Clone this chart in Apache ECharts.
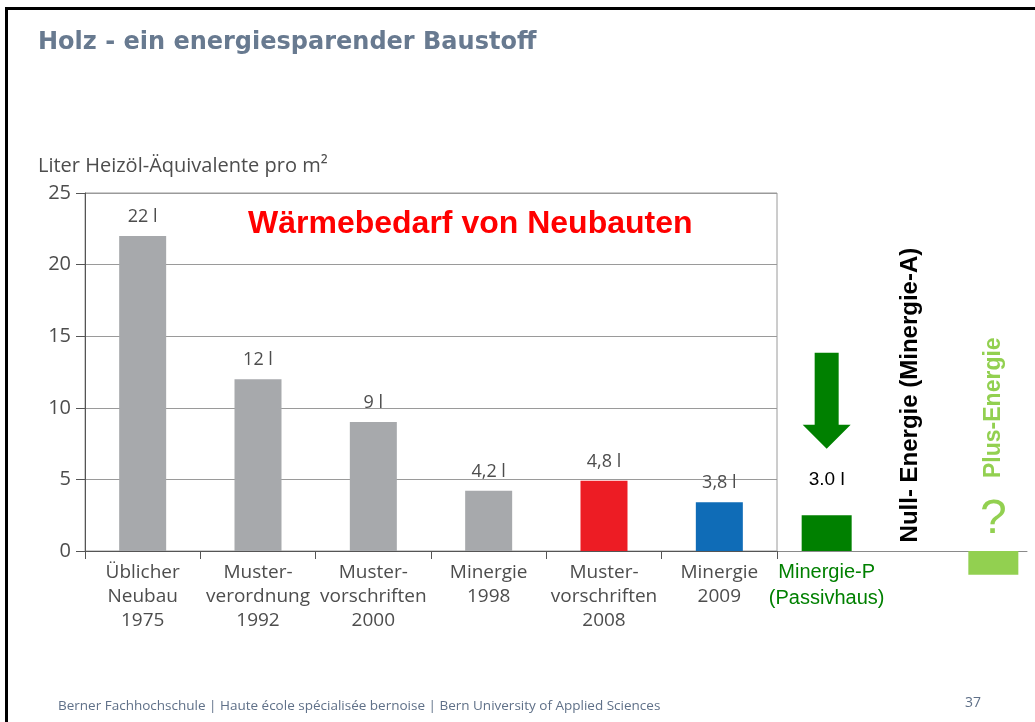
<!DOCTYPE html>
<html>
<head>
<meta charset="utf-8">
<script src="https://cdn.jsdelivr.net/npm/echarts@6/dist/echarts.min.js"></script>
<style>
  html, body { margin: 0; padding: 0; background: #fff; }
  #chart { position: absolute; left: 0; top: 0; width: 1035px; height: 722px; }
  #frame { position: absolute; left: 5px; top: 7px; right: 0; bottom: 0;
           border-left: 3px solid #000; border-top: 3px solid #000; pointer-events: none; }
</style>
</head>
<body>
<div id="chart"></div>
<div id="frame"></div>
<script>
// main chart: Liter Heizöl-Äquivalente pro m²
const categories = ['Üblicher\nNeubau\n1975', 'Muster-\nverordnung\n1992', 'Muster-\nvorschriften\n2000',
  'Minergie\n1998', 'Muster-\nvorschriften\n2008', 'Minergie\n2009'];
const values = [22, 12, 9, 4.2, 4.9, 3.4];
const valueLabels = ['22 l', '12 l', '9 l', '4,2 l', '4,8 l', '3,8 l'];
const barColors = ['#a7a9ac', '#a7a9ac', '#a7a9ac', '#a7a9ac', '#ed1c24', '#0f6cb7'];

// right part: future standards
const extraCategories = ['Minergie-P', 'Null-Energie', 'Plus-Energie'];
const extraValues = [2.5, 0, -1.65];
const extraLabels = ['3.0 l', '', ''];
const extraColors = ['#008000', '#000000', '#92d050'];

const yTicks = [0, 5, 10, 15, 20, 25];

const gray = '#4d4d4d';
const narrow = '"Liberation Sans Narrow", "Arial Narrow", "Liberation Sans", sans-serif';

const chart = echarts.init(document.getElementById('chart'));

const option = {
  animation: false,
  title: [
    {
      text: 'Holz - ein energiesparender Baustoff',
      left: 38, top: 31, padding: 0,
      textStyle: { fontFamily: 'DejaVu Sans', fontWeight: 'bold', fontSize: 24, color: '#687a90' },
    },
    {
      text: 'Liter Heizöl-Äquivalente pro m²',
      left: 38, top: 156, padding: 0,
      textStyle: { fontFamily: 'Open Sans', fontWeight: 'normal', fontSize: 20, color: gray },
    },
    {
      text: 'Wärmebedarf von Neubauten',
      left: 248, top: 208, padding: 0,
      textStyle: { fontFamily: 'Liberation Sans', fontWeight: 'bold', fontSize: 32, color: '#ff0000' },
    },
    {
      text: 'Berner Fachhochschule | Haute école spécialisée bernoise | Bern University of Applied Sciences',
      left: 58, top: 699, padding: 0,
      textStyle: { fontFamily: 'Open Sans', fontWeight: 'normal', fontSize: 13.5, color: '#5f7088' },
    },
    {
      text: '37',
      left: 965, top: 696, padding: 0,
      textStyle: { fontFamily: 'Open Sans', fontWeight: 'normal', fontSize: 14, color: '#5f7088' },
    },
  ],
  grid: [
    { left: 85, right: 258, top: 193, bottom: 171, show: true, borderColor: '#9a9a9a', borderWidth: 1 },
    { left: 785, right: 0, top: 193, bottom: 171 },
    { left: 777, right: 8, top: 193, bottom: 171 },
  ],
  xAxis: [
    {
      type: 'category', gridIndex: 0, data: categories,
      axisLine: { lineStyle: { color: '#555', width: 1 } },
      axisTick: { show: true, length: 8, lineStyle: { color: '#555' } },
      axisLabel: { margin: 10, fontFamily: 'Open Sans', fontSize: 19, lineHeight: 24, color: gray, interval: 0 },
    },
    {
      type: 'category', gridIndex: 1, data: extraCategories,
      axisLine: { show: false },
      axisTick: { show: false },
      axisLabel: {
        margin: 8, interval: 0,
        formatter: (v) => (v === extraCategories[0] ? '{a|Minergie-P}\n{b|(Passivhaus)}' : ''),
        rich: {
          a: { fontFamily: narrow, fontSize: 20, color: '#008000', lineHeight: 26 },
          b: { fontFamily: narrow, fontSize: 20, color: '#008000', lineHeight: 26 },
        },
      },
    },
    {
      // baseline continuing to the right of the main plot
      type: 'value', gridIndex: 2, min: 0, max: 1,
      axisLine: { show: true, lineStyle: { color: '#8a8a8a', width: 1 } },
      axisTick: { show: false }, axisLabel: { show: false }, splitLine: { show: false },
    },
  ],
  yAxis: [
    {
      type: 'value', gridIndex: 0, min: yTicks[0], max: yTicks[yTicks.length - 1], interval: 5,
      axisLine: { show: true, lineStyle: { color: '#555' } },
      axisTick: { show: true, length: 9, lineStyle: { color: '#555' } },
      axisLabel: { margin: 14, fontFamily: 'Open Sans', fontSize: 20, color: gray },
      splitLine: { lineStyle: { color: '#9a9a9a', width: 1 } },
    },
    {
      type: 'value', gridIndex: 1, min: yTicks[0], max: yTicks[yTicks.length - 1], show: false,
      splitLine: { show: false },
    },
    {
      type: 'value', gridIndex: 2, min: 0, max: 1, show: false, splitLine: { show: false },
    },
  ],
  series: [
    {
      type: 'bar', xAxisIndex: 0, yAxisIndex: 0, barWidth: 47,
      data: values.map((v, i) => ({ value: v, itemStyle: { color: barColors[i] } })),
      label: {
        show: true, position: 'top', distance: 10,
        fontFamily: 'Open Sans', fontSize: 18, color: gray,
        formatter: (p) => valueLabels[p.dataIndex],
      },
    },
    {
      type: 'bar', xAxisIndex: 1, yAxisIndex: 1, barWidth: 50, clip: false,
      data: extraValues.map((v, i) => ({ value: v, itemStyle: { color: extraColors[i] } })),
      label: {
        show: true, position: 'top', distance: 26,
        fontFamily: narrow, fontSize: 19, color: '#000',
        formatter: (p) => extraLabels[p.dataIndex],
      },
      markPoint: {
        silent: true,
        data: [
          {
            coord: [extraCategories[0], 10.5],
            symbol: 'path://M12,0 L36,0 L36,72 L48,72 L24,96 L0,72 L12,72 Z',
            symbolSize: [48, 96], symbolKeepAspect: false,
            itemStyle: { color: '#008000' },
            label: { show: false },
          },
          {
            coord: [extraCategories[1], 0.6],
            symbol: 'circle', symbolSize: 1, itemStyle: { color: 'rgba(0,0,0,0)' },
            label: {
              show: true, position: 'inside', formatter: 'Null- Energie (Minergie-A)',
              rotate: 90, align: 'left', verticalAlign: 'middle',
              fontFamily: 'Liberation Sans', fontWeight: 'bold', fontSize: 24, color: '#000',
            },
          },
          {
            coord: [extraCategories[2], 5.1],
            symbol: 'circle', symbolSize: 1, itemStyle: { color: 'rgba(0,0,0,0)' },
            label: {
              show: true, position: 'inside', formatter: 'Plus-Energie',
              rotate: 90, align: 'left', verticalAlign: 'middle',
              fontFamily: 'Liberation Sans', fontWeight: 'bold', fontSize: 23, color: '#92d050',
            },
          },
          {
            coord: [extraCategories[2], 2.2],
            symbol: 'circle', symbolSize: 1, itemStyle: { color: 'rgba(0,0,0,0)' },
            label: {
              show: true, position: 'inside', formatter: '?',
              align: 'center', verticalAlign: 'middle',
              fontFamily: narrow, fontWeight: 'normal', fontSize: 48, color: '#92d050',
            },
          },
        ],
      },
    },
  ],
};

chart.setOption(option);
</script>
</body>
</html>
